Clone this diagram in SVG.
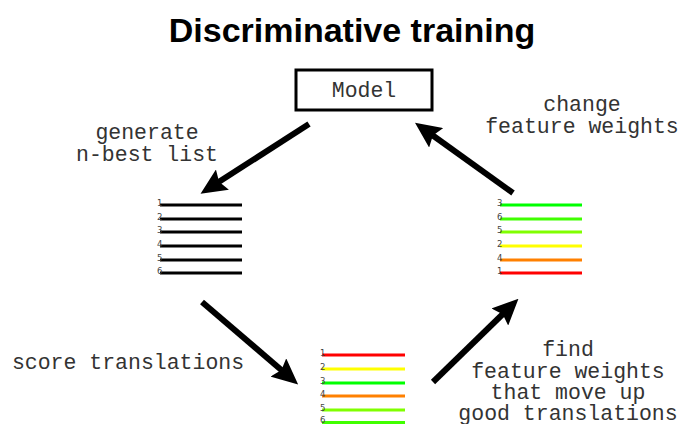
<svg xmlns="http://www.w3.org/2000/svg" width="680" height="424" viewBox="0 0 680 424">
  <style>
    .title { font-family: "Liberation Sans", Arial, sans-serif; font-weight: bold; font-size: 34px; fill: #000; }
    .mono { font-family: "Liberation Mono", "Courier New", monospace; font-size: 21.5px; fill: #333; }
    .num { font-family: "DejaVu Sans", sans-serif; font-size: 8.5px; fill: #444; }
    .bar { stroke-width: 3; fill: none; }
    .arrow { stroke: #000; stroke-width: 6; fill: none; marker-end: url(#head); }
  </style>
  <defs>
    <marker id="head" markerUnits="userSpaceOnUse" viewBox="0 0 26 24" refX="10" refY="12" markerWidth="26" markerHeight="24" orient="auto">
      <path d="M0,0 L26,12 L0,24 L4,12 z" fill="#000"/>
    </marker>
  </defs>
  <rect width="680" height="424" fill="#fff"/>

  <text class="title" x="352" y="42" text-anchor="middle">Discriminative training</text>

  <g id="model">
    <rect x="296" y="70" width="136" height="40" fill="#fff" stroke="#000" stroke-width="3"/>
    <text class="mono" x="364" y="97" text-anchor="middle">Model</text>
  </g>

  <!-- n-best list, decoder order -->
  <g id="nbest">
    <g class="bar" stroke="#000">
      <line x1="160" y1="205" x2="242" y2="205"/>
      <line x1="160" y1="219" x2="242" y2="219"/>
      <line x1="160" y1="232" x2="242" y2="232"/>
      <line x1="160" y1="246" x2="242" y2="246"/>
      <line x1="160" y1="260" x2="242" y2="260"/>
      <line x1="160" y1="273" x2="242" y2="273"/>
    </g>
    <text class="num" x="157" y="206">1</text>
    <text class="num" x="157" y="220">2</text>
    <text class="num" x="157" y="233">3</text>
    <text class="num" x="157" y="247">4</text>
    <text class="num" x="157" y="261">5</text>
    <text class="num" x="157" y="274">6</text>
  </g>

  <!-- scored list -->
  <g id="scored">
    <line class="bar" stroke="#ff0000" x1="322" y1="355" x2="405" y2="355"/>
    <line class="bar" stroke="#ffff00" x1="322" y1="369" x2="405" y2="369"/>
    <line class="bar" stroke="#00ff00" x1="322" y1="383" x2="405" y2="383"/>
    <line class="bar" stroke="#ff8000" x1="322" y1="396" x2="405" y2="396"/>
    <line class="bar" stroke="#80ff00" x1="322" y1="410" x2="405" y2="410"/>
    <line class="bar" stroke="#40ff00" x1="322" y1="422.5" x2="405" y2="422.5"/>
    <text class="num" x="320" y="356">1</text>
    <text class="num" x="320" y="370">2</text>
    <text class="num" x="320" y="384">3</text>
    <text class="num" x="320" y="397">4</text>
    <text class="num" x="320" y="411">5</text>
    <text class="num" x="320" y="423">6</text>
  </g>

  <!-- reranked list -->
  <g id="reranked">
    <line class="bar" stroke="#00ff00" x1="500" y1="205" x2="582" y2="205"/>
    <line class="bar" stroke="#40ff00" x1="500" y1="219" x2="582" y2="219"/>
    <line class="bar" stroke="#80ff00" x1="500" y1="232" x2="582" y2="232"/>
    <line class="bar" stroke="#ffff00" x1="500" y1="246" x2="582" y2="246"/>
    <line class="bar" stroke="#ff8000" x1="500" y1="260" x2="582" y2="260"/>
    <line class="bar" stroke="#ff0000" x1="500" y1="273" x2="582" y2="273"/>
    <text class="num" x="497" y="206">3</text>
    <text class="num" x="497" y="220">6</text>
    <text class="num" x="497" y="233">5</text>
    <text class="num" x="497" y="247">2</text>
    <text class="num" x="497" y="261">4</text>
    <text class="num" x="497" y="274">1</text>
  </g>

  <g id="labels">
    <text class="mono" text-anchor="middle" x="147" y="139">generate</text>
    <text class="mono" text-anchor="middle" x="147" y="161">n-best list</text>
    <text class="mono" text-anchor="middle" x="582" y="111">change</text>
    <text class="mono" text-anchor="middle" x="582" y="133">feature weights</text>
    <text class="mono" text-anchor="middle" x="128" y="369">score translations</text>
    <text class="mono" text-anchor="middle" x="568" y="356">find</text>
    <text class="mono" text-anchor="middle" x="568" y="378">feature weights</text>
    <text class="mono" text-anchor="middle" x="568" y="399">that move up</text>
    <text class="mono" text-anchor="middle" x="568" y="420">good translations</text>
  </g>

  <g id="connectors">
    <line class="arrow" x1="309" y1="124" x2="214" y2="185"/>
    <line class="arrow" x1="202" y1="302" x2="286" y2="374"/>
    <line class="arrow" x1="433" y1="382" x2="507" y2="310"/>
    <line class="arrow" x1="513" y1="193" x2="428" y2="132"/>
  </g>
</svg>
